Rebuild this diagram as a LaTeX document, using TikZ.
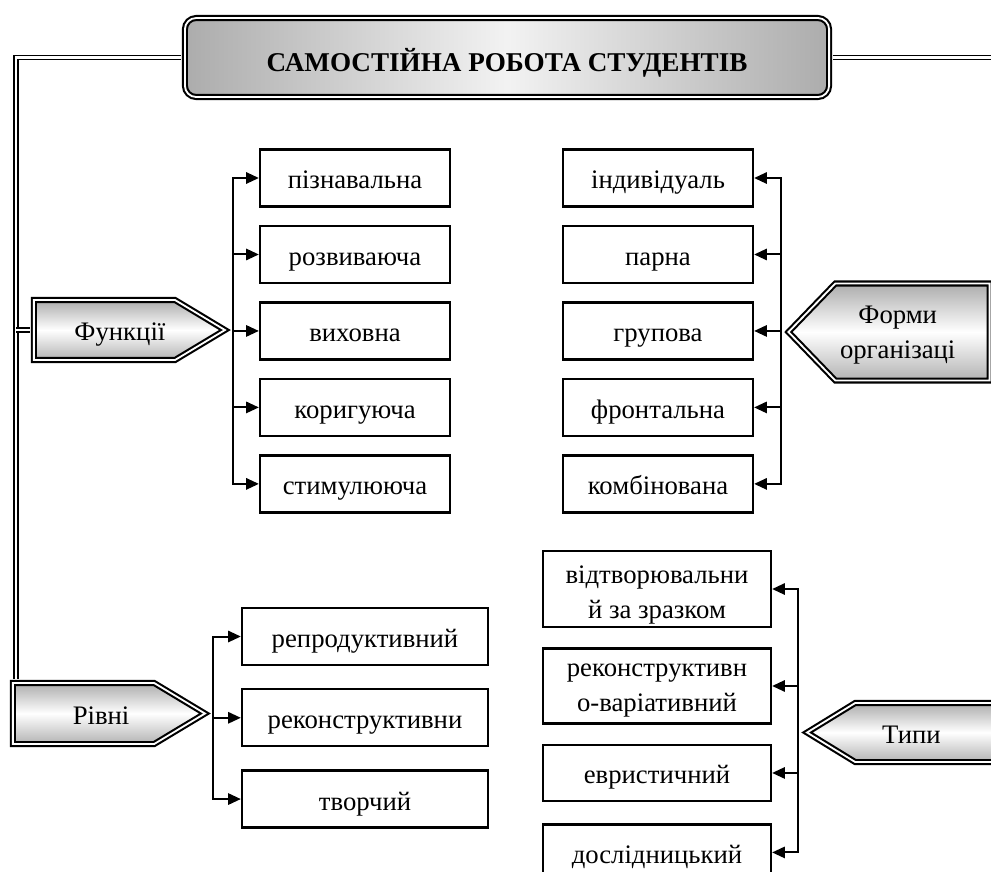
\documentclass[tikz,border=0pt]{standalone}
\usepackage{fontspec}
\setmainfont{Liberation Serif}
\usetikzlibrary{positioning,arrows.meta,shapes.symbols}
\newcommand\itemfont{\fontsize{19}{25}\selectfont}
\newcommand\headfont{\fontsize{19.3}{23}\selectfont\bfseries}
\tikzset{
lowtext/.style={
text height=17pt,
text depth=1.4pt
},
itembox/.style={
draw,
line width=1.6pt,
minimum height=1.425cm,
inner xsep=0pt,
inner ysep=2pt,
align=center,
lowtext,
font=\itemfont
},
funcbox/.style={itembox,minimum width=4.75cm},
formbox/.style={itembox,minimum width=4.75cm},
levelbox/.style={itembox,minimum width=6.15cm},
typebox/.style={itembox,minimum width=5.7cm},
pointer/.style={
shape=signal,
signal from=nowhere,
draw=black,
line width=1.5pt,
double=white,
double distance=1.3pt,
top color=gray!65,
bottom color=gray!60,
middle color=white,
inner ysep=2pt,
align=center,
lowtext,
font=\itemfont
},
headbox/.style={
draw=black,
line width=1.5pt,
double=white,
double distance=1.3pt,
rounded corners=8pt,
left color=gray!65,
right color=gray!65,
middle color=white!90!gray,
minimum width=16.1cm,
minimum height=1.975cm,
text height=20pt,
text depth=0pt,
font=\headfont
},
rail/.style={
draw=black,
line width=1.1pt,
double=white,
double distance=1.6pt
},
arrow/.style={
-{Triangle[length=9pt,width=8pt]},
line width=1.4pt
}
}

\begin{document}
\begin{tikzpicture}[x=0.025cm,y=-0.025cm,node distance=4.3mm]
\useasboundingbox (0,0) rectangle (991,871);
\clip (0,0) rectangle (991,871);

% title
\node[headbox] (head) at (507,57.5) {САМОСТІЙНА РОБОТА СТУДЕНТІВ};

% functions
\node[pointer,signal to=east,signal pointer angle=62,minimum width=4.775cm,minimum height=1.5cm,anchor=east] (func) at (227,330) {\hspace*{22pt}Функції};
\node[funcbox] (f1) at (355,178) {пізнавальна};
\node[funcbox,below=of f1] (f2) {розвиваюча};
\node[funcbox,below=of f2] (f3) {виховна};
\node[funcbox,below=of f3] (f4) {коригуюча};
\node[funcbox,below=of f4] (f5) {стимулююча};

% forms
\node[pointer,text height=37.4pt,text depth=0pt,signal to=west,signal pointer angle=92,minimum width=4.8cm,minimum height=2.425cm,anchor=west] (form) at (787,332) {Форми\hspace*{21pt}\\організаці\hspace*{21pt}};
\node[formbox] (o1) at (658,178) {індивідуаль};
\node[formbox,below=of o1] (o2) {парна};
\node[formbox,below=of o2] (o3) {групова};
\node[formbox,below=of o3] (o4) {фронтальна};
\node[formbox,below=of o4] (o5) {комбінована};

% levels
\node[pointer,signal to=east,signal pointer angle=62,minimum width=4.8cm,minimum height=1.525cm,anchor=east] (level) at (207,713.5) {\hspace*{25pt}Рівні};
\node[levelbox] (l1) at (365,636.5) {репродуктивний};
\node[levelbox,below=5.5mm of l1] (l2) {реконструктивни};
\node[levelbox,below=5.5mm of l2] (l3) {творчий};

% types
\node[pointer,signal to=west,signal pointer angle=63,minimum width=5.6cm,minimum height=1.475cm,anchor=west] (type) at (805,732.5) {Типи\hspace*{45pt}};
\node[typebox,text height=42.2pt,text depth=0pt,minimum height=1.9cm] (t1) at (657,589) {відтворювальни\\й за зразком};
\node[typebox,text height=36pt,text depth=0pt,minimum height=1.875cm,below=4.8mm of t1] (t2) {реконструктивн\\о-варіативний};
\node[typebox,minimum height=1.4cm,below=4.8mm of t2] (t3) {евристичний};
\node[typebox,minimum height=1.4cm,below=5.3mm of t3] (t4) {дослідницький};

% rails
\coordinate (lrail) at (16,57.5);
\coordinate (rrail) at (996,57.5);
\coordinate (headw) at ([xshift=-2pt]head.west);
\coordinate (heade) at ([xshift=2pt]head.east);
\coordinate (funcw) at ([xshift=-2pt]func.west);
\coordinate (forme) at ([xshift=2pt]form.east);
\coordinate (levtop) at ([yshift=2pt]level.north);
\coordinate (typtop) at ([yshift=2pt]type.north);
\draw[rail] (headw) -- (lrail) -- (lrail |- levtop);
\draw[rail] (lrail |- funcw) -- (funcw);
\draw[rail] (heade) -- (rrail) -- (rrail |- typtop);
\draw[rail] (rrail |- forme) -- (forme);

% branches
\coordinate (fbus) at ([xshift=4.5pt]func.east);
\coordinate (obus) at ([xshift=-4pt]form.west);
\coordinate (lbus) at ([xshift=4.5pt]level.east);
\coordinate (tbus) at ([xshift=-5pt]type.west);
\foreach \i in {1,...,5}
  \draw[arrow] (fbus) |- (f\i.west);
\foreach \i in {1,...,5}
  \draw[arrow] (obus) |- (o\i.east);
\foreach \i in {1,2,3}
  \draw[arrow] (lbus) |- (l\i.west);
\foreach \i in {1,...,4}
  \draw[arrow] (tbus) |- (t\i.east);
\end{tikzpicture}
\end{document}
